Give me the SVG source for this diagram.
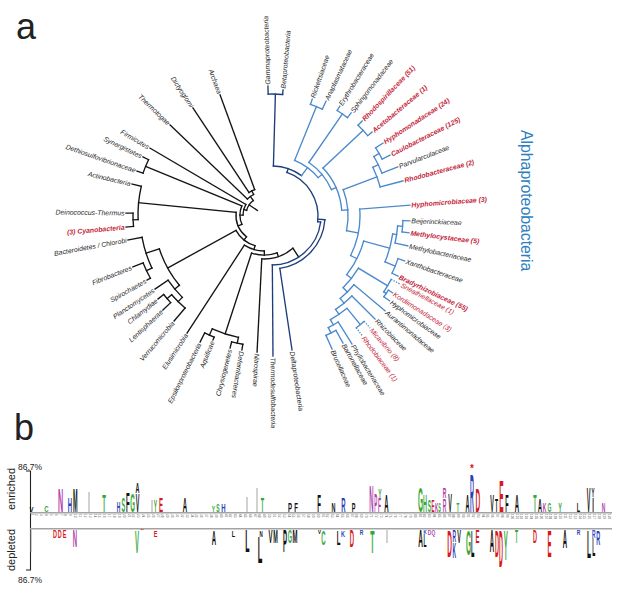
<svg xmlns="http://www.w3.org/2000/svg" width="617" height="590" viewBox="0 0 617 590">
<style>
.t{font-family:"Liberation Sans",Arial,sans-serif;font-style:italic;font-size:6.9px;fill:#262626}
.rb{fill:#c41e3a;font-weight:bold}
.rn{fill:#c41e3a}
.k{fill:none;stroke:#141414;stroke-width:1.35;stroke-linecap:square}
.nv{fill:none;stroke:#1e3d7b;stroke-width:1.35;stroke-linecap:square}
.ab{fill:none;stroke:#4b89cc;stroke-width:1.35;stroke-linecap:square}
.dt{stroke-dasharray:1.3 1.4;stroke-linecap:butt}
.pl{font-family:"Liberation Sans",Arial,sans-serif;fill:#222}
.lg{font-family:"Liberation Sans",Arial,sans-serif;font-weight:bold;font-size:10px;text-anchor:middle}
.g{fill:#35a83a}.b{fill:#2a3fb8}.d{fill:#d7191c}.m{fill:#b13fae}.x{fill:#111}
.num{font-family:"Liberation Sans",Arial,sans-serif;font-size:3.1px;fill:#555}
.eb{stroke:#9a9a9a;stroke-width:0.9}
</style>
<rect width="617" height="590" fill="#fff"/>
<g id="panel-a"><text class="pl" x="16" y="38.5" font-size="36">a</text></g>
<g id="panel-b"><text class="pl" x="14" y="440" font-size="36">b</text></g>

<g id="connectors">
<g class="k" transform="translate(264 215)">
<circle r="18" pathLength="360" stroke-dasharray="38.4 400" transform="rotate(-164.9)"/>
<circle r="21" pathLength="360" stroke-dasharray="30.6 400" transform="rotate(-180.2)"/>
<circle r="24" pathLength="360" stroke-dasharray="45.15 400" transform="rotate(-202.8)"/>
<circle r="28" pathLength="360" stroke-dasharray="56.85 400" transform="rotate(-231.25)"/>
<circle r="32" pathLength="360" stroke-dasharray="44.9 400" transform="rotate(-253.7)"/>
<circle r="36" pathLength="360" stroke-dasharray="33.6 400" transform="rotate(-270.5)"/>
<circle r="40" pathLength="360" stroke-dasharray="37.15 400" transform="rotate(-289.05)"/>
<circle r="44" pathLength="360" stroke-dasharray="43.9 400" transform="rotate(-311)"/>
<circle r="23" pathLength="360" stroke-dasharray="19.35 400" transform="rotate(-136.2)"/>
<circle r="27" pathLength="360" stroke-dasharray="13.5 400" transform="rotate(-123.6)"/>
<circle r="128" pathLength="360" stroke-dasharray="6.5 400" transform="rotate(-160.9)"/>
<circle r="126" pathLength="360" stroke-dasharray="15.3 400" transform="rotate(-182.1)"/>
<circle r="131" pathLength="360" stroke-dasharray="5.8 400" transform="rotate(-185)"/>
<circle r="110" pathLength="360" stroke-dasharray="21.8 400" transform="rotate(140.3)"/>
<circle r="124" pathLength="360" stroke-dasharray="14.95 400" transform="rotate(154.65)"/>
<circle r="130" pathLength="360" stroke-dasharray="7.5 400" transform="rotate(150.9)"/>
<circle r="116" pathLength="360" stroke-dasharray="11.05 400" transform="rotate(134.75)"/>
<circle r="122" pathLength="360" stroke-dasharray="8.9 400" transform="rotate(130.3)"/>
<circle r="128" pathLength="360" stroke-dasharray="4.8 400" transform="rotate(136.8)"/>
<circle r="125" pathLength="360" stroke-dasharray="12.65 400" transform="rotate(101.8)"/>
<circle r="132" pathLength="360" stroke-dasharray="4.5 400" transform="rotate(112.2)"/>
<circle r="131" pathLength="360" stroke-dasharray="5 400" transform="rotate(99.3)"/>
<line x1="27" x2="127.8" transform="rotate(-110.1)"/>
<line x1="27" x2="128.4" transform="rotate(-123.6)"/>
<line x1="23" x2="130.1" transform="rotate(-136.2)"/>
<line x1="23" x2="27" transform="rotate(-116.85)"/>
<line x1="18" x2="23" transform="rotate(-126.5)"/>
<line x1="21" x2="132.2" transform="rotate(-149.6)"/>
<line x1="8" x2="18" transform="rotate(-145.7)"/>
<line x1="24" x2="128" transform="rotate(-157.65)"/>
<line x1="128" x2="134.2" transform="rotate(-154.4)"/>
<line x1="128" x2="134.4" transform="rotate(-160.9)"/>
<line x1="28" x2="126" transform="rotate(-174.4)"/>
<line x1="126" x2="135.6" transform="rotate(-166.8)"/>
<line x1="126" x2="131" transform="rotate(-182.1)"/>
<line x1="131" x2="138" transform="rotate(-179.2)"/>
<line x1="131" x2="138.5" transform="rotate(175)"/>
<line x1="32" x2="110" transform="rotate(151.2)"/>
<line x1="110" x2="124" transform="rotate(162.1)"/>
<line x1="124" x2="138.3" transform="rotate(169.6)"/>
<line x1="124" x2="130" transform="rotate(154.65)"/>
<line x1="130" x2="141" transform="rotate(158.4)"/>
<line x1="130" x2="133.8" transform="rotate(150.9)"/>
<line x1="110" x2="116" transform="rotate(140.3)"/>
<line x1="116" x2="131.7" transform="rotate(145.8)"/>
<line x1="116" x2="122" transform="rotate(134.75)"/>
<line x1="122" x2="139" transform="rotate(130.3)"/>
<line x1="122" x2="128" transform="rotate(139.2)"/>
<line x1="128" x2="135.2" transform="rotate(141.6)"/>
<line x1="128" x2="138.7" transform="rotate(136.8)"/>
<line x1="36" x2="140.9" transform="rotate(123.1)"/>
<line x1="40" x2="125" transform="rotate(108.1)"/>
<line x1="125" x2="132" transform="rotate(114.45)"/>
<line x1="132" x2="142.2" transform="rotate(116.7)"/>
<line x1="132" x2="135" transform="rotate(112.2)"/>
<line x1="125" x2="131" transform="rotate(101.8)"/>
<line x1="131" x2="137.3" transform="rotate(104.3)"/>
<line x1="131" x2="136.8" transform="rotate(99.3)"/>
<line x1="44" x2="137.2" transform="rotate(92.9)"/>
<line x1="18" x2="21" transform="rotate(-164.9)"/>
<line x1="21" x2="24" transform="rotate(-180.2)"/>
<line x1="24" x2="28" transform="rotate(-202.8)"/>
<line x1="28" x2="32" transform="rotate(-231.25)"/>
<line x1="32" x2="36" transform="rotate(-253.7)"/>
<line x1="36" x2="40" transform="rotate(-270.5)"/>
<line x1="40" x2="44" transform="rotate(-289.05)"/>
</g>
<line class="k" x1="292.9" y1="248.2" x2="298.7" y2="257.1"/>
<g class="nv" transform="translate(272 216)">
<line x1="50" x2="122" transform="rotate(-88.4)"/>
<circle r="122" pathLength="360" stroke-dasharray="6.8 400" transform="rotate(-91.8)"/>
<line x1="122" x2="130" transform="rotate(-91.8)"/>
<line x1="122" x2="126.5" transform="rotate(-85)"/>
<circle r="50" pathLength="360" stroke-dasharray="34.6 400" transform="rotate(-88.4)"/>
<line x1="46" x2="50" transform="rotate(-71.1)"/>
<circle r="46" pathLength="360" stroke-dasharray="78.1 400" transform="rotate(-71.1)"/>
<line x1="46" x2="49" transform="rotate(7)"/>
<circle r="49" pathLength="360" stroke-dasharray="82.6 400" transform="rotate(7)"/>
<line x1="49" x2="140" transform="rotate(89.6)"/>
<line x1="46" x2="53" transform="rotate(4)"/>
<circle r="53" pathLength="360" stroke-dasharray="77.5 400" transform="rotate(4)"/>
<line x1="53" x2="135.5" transform="rotate(81.5)"/>
</g>
<g class="ab" transform="translate(272 216)">
<line x1="50" x2="60" transform="rotate(-53.8)"/>
<circle r="60" pathLength="360" stroke-dasharray="28.2 400" transform="rotate(-67.9)"/>
<line x1="60" x2="65" transform="rotate(-39.7)"/>
<circle r="65" pathLength="360" stroke-dasharray="31.45 400" transform="rotate(-55.4)"/>
<line x1="65" x2="70" transform="rotate(-23.95)"/>
<circle r="70" pathLength="360" stroke-dasharray="38.6 400" transform="rotate(-43.25)"/>
<line x1="70" x2="76" transform="rotate(-4.65)"/>
<circle r="76" pathLength="360" stroke-dasharray="31.5 400" transform="rotate(-20.4)"/>
<line x1="76" x2="88" transform="rotate(11.1)"/>
<circle r="88" pathLength="360" stroke-dasharray="31.2 400" transform="rotate(-4.5)"/>
<line x1="88" x2="95" transform="rotate(26.7)"/>
<circle r="95" pathLength="360" stroke-dasharray="22.85 400" transform="rotate(15.3)"/>
<line x1="95" x2="101" transform="rotate(38.15)"/>
<circle r="101" pathLength="360" stroke-dasharray="14.1 400" transform="rotate(31.1)"/>
<line x1="101" x2="107" transform="rotate(45.2)"/>
<circle r="107" pathLength="360" stroke-dasharray="10.4 400" transform="rotate(40)"/>
<line x1="107" x2="113" transform="rotate(50.4)"/>
<circle r="113" pathLength="360" stroke-dasharray="10.75 400" transform="rotate(45)"/>
<line x1="113" x2="119" transform="rotate(55.75)"/>
<circle r="119" pathLength="360" stroke-dasharray="9.7 400" transform="rotate(50.9)"/>
<line x1="119" x2="125" transform="rotate(60.6)"/>
<circle r="125" pathLength="360" stroke-dasharray="5.25 400" transform="rotate(58)"/>
<line x1="125" x2="131" transform="rotate(63.25)"/>
<circle r="131" pathLength="360" stroke-dasharray="4.9 400" transform="rotate(60.8)"/>
<line x1="60" x2="118" transform="rotate(-67.9)"/>
<circle r="118" pathLength="360" stroke-dasharray="6.2 400" transform="rotate(-71)"/>
<line x1="118" x2="123.6" transform="rotate(-71)"/>
<line x1="118" x2="127" transform="rotate(-64.8)"/>
<line x1="65" x2="124" transform="rotate(-55.4)"/>
<circle r="124" pathLength="360" stroke-dasharray="5.8 400" transform="rotate(-58.3)"/>
<line x1="124" x2="129" transform="rotate(-58.3)"/>
<line x1="124" x2="130" transform="rotate(-52.5)"/>
<line x1="70" x2="125" transform="rotate(-43.25)"/>
<circle r="125" pathLength="360" stroke-dasharray="6.5 400" transform="rotate(-46.5)"/>
<line x1="125" x2="131" transform="rotate(-46.5)"/>
<line x1="125" x2="130.6" transform="rotate(-40)"/>
<line x1="76" x2="112" transform="rotate(-20.4)"/>
<circle r="112" pathLength="360" stroke-dasharray="10.8 400" transform="rotate(-25.8)"/>
<line x1="112" x2="135.6" transform="rotate(-15)"/>
<line x1="112" x2="118" transform="rotate(-25.8)"/>
<circle r="118" pathLength="360" stroke-dasharray="9 400" transform="rotate(-30.3)"/>
<line x1="118" x2="135" transform="rotate(-21.3)"/>
<line x1="118" x2="124" transform="rotate(-30.3)"/>
<circle r="124" pathLength="360" stroke-dasharray="6 400" transform="rotate(-33.3)"/>
<line x1="124" x2="132.8" transform="rotate(-33.3)"/>
<line x1="124" x2="132.8" transform="rotate(-27.3)"/>
<line x1="88" x2="138.3" transform="rotate(-4.5)"/>
<line x1="95" x2="122" transform="rotate(15.3)"/>
<circle r="122" pathLength="360" stroke-dasharray="13.65 400" transform="rotate(8.45)"/>
<line x1="122" x2="126" transform="rotate(8.45)"/>
<circle r="126" pathLength="360" stroke-dasharray="7.9 400" transform="rotate(4.5)"/>
<line x1="126" x2="139" transform="rotate(12.4)"/>
<line x1="126" x2="131" transform="rotate(4.5)"/>
<circle r="131" pathLength="360" stroke-dasharray="5 400" transform="rotate(2)"/>
<line x1="131" x2="138" transform="rotate(2)"/>
<line x1="131" x2="138" transform="rotate(7)"/>
<line x1="122" x2="133" transform="rotate(22.1)"/>
<circle r="133" pathLength="360" stroke-dasharray="6.8 400" transform="rotate(18.7)"/>
<line x1="133" x2="140" transform="rotate(18.7)"/>
<line x1="133" x2="139.6" transform="rotate(25.5)"/>
<line x1="101" x2="135" transform="rotate(31.1)"/>
<circle r="135" pathLength="360" stroke-dasharray="6.15 400" transform="rotate(28)"/>
<line class="dt" x1="135" x2="145" transform="rotate(28)"/>
<line x1="135" x2="138" transform="rotate(34.15)"/>
<circle r="138" pathLength="360" stroke-dasharray="3.3 400" transform="rotate(32.5)"/>
<line x1="138" x2="143" transform="rotate(32.5)"/>
<line x1="138" x2="145" transform="rotate(35.8)"/>
<line x1="107" x2="147.6" transform="rotate(40)"/>
<line x1="113" x2="145.7" transform="rotate(45)"/>
<line x1="119" x2="140" transform="rotate(50.9)"/>
<circle r="140" pathLength="360" stroke-dasharray="4.2 400" transform="rotate(48.8)"/>
<line class="dt" x1="140" x2="148.8" transform="rotate(48.8)"/>
<line class="dt" x1="140" x2="150" transform="rotate(53)"/>
<line x1="125" x2="151" transform="rotate(58)"/>
<line x1="131" x2="145.5" transform="rotate(60.8)"/>
<line x1="131" x2="146" transform="rotate(65.7)"/>
</g>
</g>

<g id="n-archaea" transform="translate(264 215) rotate(-110.1) translate(129.3 0) rotate(180)"><text class="t" text-anchor="end" y="2.4">Archaea</text></g>
<g id="n-dictyoglomi" transform="translate(264 215) rotate(-123.6) translate(129.9 0) rotate(180)"><text class="t" text-anchor="end" y="2.4">Dictyoglomi</text></g>
<g id="n-thermotogae" transform="translate(264 215) rotate(-136.2) translate(131.6 0) rotate(180)"><text class="t" text-anchor="end" y="2.4">Thermotogae</text></g>
<g id="n-firmicutes" transform="translate(264 215) rotate(-149.6) translate(133.7 0) rotate(180)"><text class="t" text-anchor="end" y="2.4">Firmicutes</text></g>
<g id="n-synergistetes" transform="translate(264 215) rotate(-154.4) translate(135.7 0) rotate(180)"><text class="t" text-anchor="end" y="2.4">Synergistetes</text></g>
<g id="n-dethiosulfovibrionaceae" transform="translate(264 215) rotate(-160.9) translate(135.9 0) rotate(180)"><text class="t" text-anchor="end" y="2.4">Dethiosulfovibrionaceae</text></g>
<g id="n-actinobacteria" transform="translate(264 215) rotate(-166.8) translate(137.1 0) rotate(180)"><text class="t" text-anchor="end" y="2.4">Actinobacteria</text></g>
<g id="n-deinococcus" transform="translate(264 215) rotate(-179.2) translate(139.5 0) rotate(180)"><text class="t" text-anchor="end" y="2.4">Deinococcus-Thermus</text></g>
<g id="n-cyanobacteria" transform="translate(264 215) rotate(175) translate(140 0) rotate(180)"><text class="t rb" text-anchor="end" y="2.4">(3) Cyanobacteria</text></g>
<g id="n-bacteroidetes" transform="translate(264 215) rotate(169.6) translate(139.8 0) rotate(180)"><text class="t" text-anchor="end" y="2.4">Bacteroidetes / Chlorobi</text></g>
<g id="n-fibrobacteres" transform="translate(264 215) rotate(158.4) translate(142.5 0) rotate(180)"><text class="t" text-anchor="end" y="2.4">Fibrobacteres</text></g>
<g id="n-spirochaetes" transform="translate(264 215) rotate(150.9) translate(135.3 0) rotate(180)"><text class="t" text-anchor="end" y="2.4">Spirochaetes</text></g>
<g id="n-planctomycetes" transform="translate(264 215) rotate(145.8) translate(133.2 0) rotate(180)"><text class="t" text-anchor="end" y="2.4">Planctomycetes</text></g>
<g id="n-chlamydiae" transform="translate(264 215) rotate(141.6) translate(136.7 0) rotate(180)"><text class="t" text-anchor="end" y="2.4">Chlamydiae</text></g>
<g id="n-lentisphaerae" transform="translate(264 215) rotate(136.8) translate(140.2 0) rotate(180)"><text class="t" text-anchor="end" y="2.4">Lentisphaerae</text></g>
<g id="n-verrucomicrobia" transform="translate(264 215) rotate(130.3) translate(140.5 0) rotate(180)"><text class="t" text-anchor="end" y="2.4">Verrucomicrobia</text></g>
<g id="n-elusimicrobia" transform="translate(264 215) rotate(123.1) translate(142.4 0) rotate(180)"><text class="t" text-anchor="end" y="2.4">Elusimicrobia</text></g>
<g id="n-epsilon" transform="translate(264 215) rotate(116.7) translate(143.7 0) rotate(180)"><text class="t" text-anchor="end" y="2.4">Epsilonproteobacteria</text></g>
<g id="n-aquificae" transform="translate(264 215) rotate(112.2) translate(136.5 0) rotate(180)"><text class="t" text-anchor="end" y="2.4">Aquificae</text></g>
<g id="n-chrysiogenetes" transform="translate(264 215) rotate(104.3) translate(138.8 0) rotate(180)"><text class="t" text-anchor="end" y="2.4">Chrysiogenetes</text></g>
<g id="n-deferribacteres" transform="translate(264 215) rotate(99.3) translate(138.3 0)"><text class="t" y="2.4">Deferribacteres</text></g>
<g id="n-nitrospirae" transform="translate(264 215) rotate(92.9) translate(138.7 0)"><text class="t" y="2.4">Nitrospirae</text></g>

<g id="n-gamma" transform="translate(272 216) rotate(-91.8) translate(131.5 0)"><text class="t" y="2.4">Gammaproteobacteria</text></g>
<g id="n-beta" transform="translate(272 216) rotate(-85) translate(128 0)"><text class="t" y="2.4">Betaproteobacteria</text></g>
<g id="n-thermodesulfobacteria" transform="translate(272 216) rotate(89.6) translate(141.5 0)"><text class="t" y="2.4">Thermodesulfobacteria</text></g>
<g id="n-delta" transform="translate(272 216) rotate(81.5) translate(137 0)"><text class="t" y="2.4">Deltaproteobacteria</text></g>
<g id="n-rickettsiaceae" transform="translate(272 216) rotate(-71) translate(125.1 0)"><text class="t" y="2.4">Rickettsiaceae</text></g>
<g id="n-anaplasmataceae" transform="translate(272 216) rotate(-64.8) translate(128.5 0)"><text class="t" y="2.4">Anaplasmataceae</text></g>
<g id="n-erythrobacteraceae" transform="translate(272 216) rotate(-58.3) translate(130.5 0)"><text class="t" y="2.4">Erythrobacteraceae</text></g>
<g id="n-sphingomonadaceae" transform="translate(272 216) rotate(-52.5) translate(131.5 0)"><text class="t" y="2.4">Sphingomonadaceae</text></g>
<g id="n-rhodospirillaceae" transform="translate(272 216) rotate(-46.5) translate(132.5 0)"><text class="t rb" y="2.4">Rhodospirillaceae (51)</text></g>
<g id="n-acetobacteraceae" transform="translate(272 216) rotate(-40) translate(132.1 0)"><text class="t rb" y="2.4">Acetobacteraceae (1)</text></g>
<g id="n-hyphomonadaceae" transform="translate(272 216) rotate(-33.3) translate(134.3 0)"><text class="t rb" y="2.4">Hyphomonadaceae (24)</text></g>
<g id="n-caulobacteraceae" transform="translate(272 216) rotate(-27.3) translate(134.3 0)"><text class="t rb" y="2.4">Caulobacteraceae (125)</text></g>
<g id="n-parvularculaceae" transform="translate(272 216) rotate(-21.3) translate(136.5 0)"><text class="t" y="2.4">Parvularculaceae</text></g>
<g id="n-rhodobacteraceae" transform="translate(272 216) rotate(-15) translate(137.1 0)"><text class="t rb" y="2.4">Rhodobacteraceae (2)</text></g>
<g id="n-hyphomicrobiaceae3" transform="translate(272 216) rotate(-4.5) translate(139.8 0)"><text class="t rb" y="2.4">Hyphomicrobiaceae (3)</text></g>
<g id="n-beijerinckiaceae" transform="translate(272 216) rotate(2) translate(139.5 0)"><text class="t" y="2.4">Beijerinckiaceae</text></g>
<g id="n-methylocystaceae" transform="translate(272 216) rotate(7) translate(139.5 0)"><text class="t rb" y="2.4">Methylocystaceae (5)</text></g>
<g id="n-methylobacteriaceae" transform="translate(272 216) rotate(12.4) translate(140.5 0)"><text class="t" y="2.4">Methylobacteriaceae</text></g>
<g id="n-xanthobacteraceae" transform="translate(272 216) rotate(18.7) translate(141.5 0)"><text class="t" y="2.4">Xanthobacteraceae</text></g>
<g id="n-bradyrhizobiaceae" transform="translate(272 216) rotate(25.5) translate(141.1 0)"><text class="t rb" y="2.4">Bradyrhizobiaceae (55)</text></g>
<g id="n-sneathiellaceae" transform="translate(272 216) rotate(28) translate(146.5 0)"><text class="t rn" y="2.4">Sneathiellaceae (1)</text></g>
<g id="n-kordiimonadaceae" transform="translate(272 216) rotate(32.5) translate(144.5 0)"><text class="t rn" y="2.4">Kordiimonadaceae (3)</text></g>
<g id="n-hyphomicrobiaceae" transform="translate(272 216) rotate(35.8) translate(146.5 0)"><text class="t" y="2.4">Hyphomicrobiaceae</text></g>
<g id="n-aurantimonadaceae" transform="translate(272 216) rotate(40) translate(149.1 0)"><text class="t" y="2.4">Aurantimonadaceae</text></g>
<g id="n-rhizobiaceae" transform="translate(272 216) rotate(45) translate(147.2 0)"><text class="t" y="2.4">Rhizobiaceae</text></g>
<g id="n-micavibrio" transform="translate(272 216) rotate(48.8) translate(150.3 0)"><text class="t rn" y="2.4">Micavibrio (8)</text></g>
<g id="n-rhodobiaceae" transform="translate(272 216) rotate(53) translate(151.5 0)"><text class="t rn" y="2.4">Rhodobiaceae (1)</text></g>
<g id="n-phyllobacteriaceae" transform="translate(272 216) rotate(58) translate(152.5 0)"><text class="t" y="2.4">Phyllobacteriaceae</text></g>
<g id="n-bartonellaceae" transform="translate(272 216) rotate(60.8) translate(147 0)"><text class="t" y="2.4">Bartonellaceae</text></g>
<g id="n-brucellaceae" transform="translate(272 216) rotate(65.7) translate(147.5 0)"><text class="t" y="2.4">Brucellaceae</text></g>
<g id="n-alphaproteobacteria"><text class="pl" x="521" y="130" font-size="15.8" style="fill:#2f7fc0" transform="rotate(90 521 130)">Alphaproteobacteria</text></g>

<g id="logo-axis">
<path d="M26 471H30.5V570H26" fill="none" stroke="#222" stroke-width="1.1"/>
<text class="pl" x="18" y="469.5" font-size="8.5">86.7%</text>
<text class="pl" x="18" y="582.5" font-size="8.5">86.7%</text>
<text class="pl" font-size="11" text-anchor="middle" transform="translate(15 489) rotate(-90)">enriched</text>
<text class="pl" font-size="11" text-anchor="middle" transform="translate(15 550) rotate(-90)">depleted</text>
<line x1="30" y1="512.8" x2="612" y2="512.8" stroke="#a3a3a3" stroke-width="1.5"/>
<line x1="30" y1="528.8" x2="612" y2="528.8" stroke="#a3a3a3" stroke-width="1.5"/>
<g class="eb">
<line x1="89" y1="492" x2="89" y2="512"/><line x1="152" y1="500" x2="152" y2="512"/>
<line x1="247" y1="497" x2="247" y2="512"/><line x1="257" y1="488" x2="257" y2="512"/>
<line x1="31" y1="530" x2="31" y2="552"/><line x1="387" y1="530" x2="387" y2="543"/>
</g>
</g>

<g id="logo-positions" class="num">
<text transform="translate(30.5 514) rotate(90)">1</text><text transform="translate(35.35 514) rotate(90)">2</text><text transform="translate(40.2 514) rotate(90)">3</text><text transform="translate(45.05 514) rotate(90)">4</text><text transform="translate(49.9 514) rotate(90)">5</text><text transform="translate(54.75 514) rotate(90)">6</text><text transform="translate(59.6 514) rotate(90)">7</text><text transform="translate(64.45 514) rotate(90)">8</text><text transform="translate(69.3 514) rotate(90)">9</text><text transform="translate(74.15 514) rotate(90)">10</text>
<text transform="translate(79 514) rotate(90)">11</text><text transform="translate(83.85 514) rotate(90)">12</text><text transform="translate(88.7 514) rotate(90)">13</text><text transform="translate(93.55 514) rotate(90)">14</text><text transform="translate(98.4 514) rotate(90)">15</text><text transform="translate(103.25 514) rotate(90)">16</text><text transform="translate(108.1 514) rotate(90)">17</text><text transform="translate(112.95 514) rotate(90)">18</text><text transform="translate(117.8 514) rotate(90)">19</text><text transform="translate(122.65 514) rotate(90)">20</text>
<text transform="translate(127.5 514) rotate(90)">21</text><text transform="translate(132.35 514) rotate(90)">22</text><text transform="translate(137.2 514) rotate(90)">23</text><text transform="translate(142.05 514) rotate(90)">24</text><text transform="translate(146.9 514) rotate(90)">25</text><text transform="translate(151.75 514) rotate(90)">26</text><text transform="translate(156.6 514) rotate(90)">27</text><text transform="translate(161.45 514) rotate(90)">28</text><text transform="translate(166.3 514) rotate(90)">29</text><text transform="translate(171.15 514) rotate(90)">30</text>
<text transform="translate(176 514) rotate(90)">31</text><text transform="translate(180.85 514) rotate(90)">32</text><text transform="translate(185.7 514) rotate(90)">33</text><text transform="translate(190.55 514) rotate(90)">34</text><text transform="translate(195.4 514) rotate(90)">35</text><text transform="translate(200.25 514) rotate(90)">36</text><text transform="translate(205.1 514) rotate(90)">37</text><text transform="translate(209.95 514) rotate(90)">38</text><text transform="translate(214.8 514) rotate(90)">39</text><text transform="translate(219.65 514) rotate(90)">40</text>
<text transform="translate(224.5 514) rotate(90)">41</text><text transform="translate(229.35 514) rotate(90)">42</text><text transform="translate(234.2 514) rotate(90)">43</text><text transform="translate(239.05 514) rotate(90)">44</text><text transform="translate(243.9 514) rotate(90)">45</text><text transform="translate(248.75 514) rotate(90)">46</text><text transform="translate(253.6 514) rotate(90)">47</text><text transform="translate(258.45 514) rotate(90)">48</text><text transform="translate(263.3 514) rotate(90)">49</text><text transform="translate(268.15 514) rotate(90)">50</text>
<text transform="translate(273 514) rotate(90)">51</text><text transform="translate(277.85 514) rotate(90)">52</text><text transform="translate(282.7 514) rotate(90)">53</text><text transform="translate(287.55 514) rotate(90)">54</text><text transform="translate(292.4 514) rotate(90)">55</text><text transform="translate(297.25 514) rotate(90)">56</text><text transform="translate(302.1 514) rotate(90)">57</text><text transform="translate(306.95 514) rotate(90)">58</text><text transform="translate(311.8 514) rotate(90)">59</text><text transform="translate(316.65 514) rotate(90)">60</text>
<text transform="translate(321.5 514) rotate(90)">61</text><text transform="translate(326.35 514) rotate(90)">62</text><text transform="translate(331.2 514) rotate(90)">63</text><text transform="translate(336.05 514) rotate(90)">64</text><text transform="translate(340.9 514) rotate(90)">65</text><text transform="translate(345.75 514) rotate(90)">66</text><text transform="translate(350.6 514) rotate(90)">67</text><text transform="translate(355.45 514) rotate(90)">68</text><text transform="translate(360.3 514) rotate(90)">69</text><text transform="translate(365.15 514) rotate(90)">70</text>
<text transform="translate(370 514) rotate(90)">71</text><text transform="translate(374.85 514) rotate(90)">72</text><text transform="translate(379.7 514) rotate(90)">73</text><text transform="translate(384.55 514) rotate(90)">74</text><text transform="translate(389.4 514) rotate(90)">75</text><text transform="translate(394.25 514) rotate(90)">76</text><text transform="translate(399.1 514) rotate(90)">77</text><text transform="translate(403.95 514) rotate(90)">78</text><text transform="translate(408.8 514) rotate(90)">79</text><text transform="translate(413.65 514) rotate(90)">80</text>
<text transform="translate(418.5 514) rotate(90)">81</text><text transform="translate(423.35 514) rotate(90)">82</text><text transform="translate(428.2 514) rotate(90)">83</text><text transform="translate(433.05 514) rotate(90)">84</text><text transform="translate(437.9 514) rotate(90)">85</text><text transform="translate(442.75 514) rotate(90)">86</text><text transform="translate(447.6 514) rotate(90)">87</text><text transform="translate(452.45 514) rotate(90)">88</text><text transform="translate(457.3 514) rotate(90)">89</text><text transform="translate(462.15 514) rotate(90)">90</text>
<text transform="translate(467 514) rotate(90)">91</text><text transform="translate(471.85 514) rotate(90)">92</text><text transform="translate(476.7 514) rotate(90)">93</text><text transform="translate(481.55 514) rotate(90)">94</text><text transform="translate(486.4 514) rotate(90)">95</text><text transform="translate(491.25 514) rotate(90)">96</text><text transform="translate(496.1 514) rotate(90)">97</text><text transform="translate(500.95 514) rotate(90)">98</text><text transform="translate(505.8 514) rotate(90)">99</text><text transform="translate(510.65 514) rotate(90)">100</text>
<text transform="translate(515.5 514) rotate(90)">101</text><text transform="translate(520.35 514) rotate(90)">102</text><text transform="translate(525.2 514) rotate(90)">103</text><text transform="translate(530.05 514) rotate(90)">104</text><text transform="translate(534.9 514) rotate(90)">105</text><text transform="translate(539.75 514) rotate(90)">106</text><text transform="translate(544.6 514) rotate(90)">107</text><text transform="translate(549.45 514) rotate(90)">108</text><text transform="translate(554.3 514) rotate(90)">109</text><text transform="translate(559.15 514) rotate(90)">110</text>
<text transform="translate(564 514) rotate(90)">111</text><text transform="translate(568.85 514) rotate(90)">112</text><text transform="translate(573.7 514) rotate(90)">113</text><text transform="translate(578.55 514) rotate(90)">114</text><text transform="translate(583.4 514) rotate(90)">115</text><text transform="translate(588.25 514) rotate(90)">116</text><text transform="translate(593.1 514) rotate(90)">117</text><text transform="translate(597.95 514) rotate(90)">118</text><text transform="translate(602.8 514) rotate(90)">119</text><text transform="translate(607.65 514) rotate(90)">120</text>
</g>

<g id="logo-enriched">
<text class="lg x" transform="translate(31.5 511.8) scale(0.6 0.7)">V</text>
<text class="lg g" transform="translate(46.5 511.8) scale(0.6 0.98)">C</text>
<text class="lg m" transform="translate(60.5 511.8) scale(0.72 3.35)">N</text>
<text class="lg b" transform="translate(70 511.8) scale(0.6 2.09)">H</text>
<text class="lg x" transform="translate(75.2 511.8) scale(0.55 3.35)">M</text>
<text class="lg g" transform="translate(104 511.8) scale(0.6 2.37)">T</text>
<text class="lg b" transform="translate(118.5 511.8) scale(0.5 1.4)">H</text>
<text class="lg g" transform="translate(123.3 511.8) scale(0.55 1.96)">S</text>
<text class="lg x" transform="translate(127.8 511.8) scale(0.6 2.79)">F</text>
<text class="lg g" transform="translate(132.5 511.8) scale(0.6 2.65)">G</text>
<text class="lg x" transform="translate(137.5 511.8) scale(0.55 2.65)">V</text>
<text class="lg x" transform="translate(137.5 492.8) scale(0.55 1.4)">A</text>
<text class="lg g" transform="translate(155.5 511.8) scale(0.5 1.68)">Y</text>
<text class="lg d" transform="translate(161 511.8) scale(0.6 1.96)">E</text>
<text class="lg x" transform="translate(185 511.8) scale(0.6 2.09)">A</text>
<text class="lg g" transform="translate(213.5 511.8) scale(0.5 0.98)">Y</text>
<text class="lg g" transform="translate(217.8 511.8) scale(0.5 1.12)">S</text>
<text class="lg b" transform="translate(223.5 511.8) scale(0.6 1.12)">H</text>
<text class="lg g" transform="translate(262.5 511.8) scale(0.55 1.96)">T</text>
<text class="lg x" transform="translate(290 511.8) scale(0.6 1.26)">P</text>
<text class="lg x" transform="translate(296 511.8) scale(0.6 1.26)">F</text>
<text class="lg x" transform="translate(319 511.8) scale(0.6 2.3)">F</text>
<text class="lg x" transform="translate(333.5 511.8) scale(0.55 1.33)">N</text>
<text class="lg b" transform="translate(343.5 511.8) scale(0.6 2.03)">R</text>
<text class="lg x" transform="translate(353.5 511.8) scale(0.55 1.19)">P</text>
<text class="lg m" transform="translate(371.5 511.8) scale(0.6 3.7)">N</text>
<text class="lg m" transform="translate(375.7 511.8) scale(0.45 2.58)">P</text>
<text class="lg m" transform="translate(379.6 511.8) scale(0.5 1.96)">F</text>
<text class="lg g" transform="translate(379.8 497.8) scale(0.5 1.26)">Y</text>
<text class="lg x" transform="translate(386.5 511.8) scale(0.6 2.3)">A</text>
<text class="lg g" transform="translate(420.5 511.8) scale(0.65 3.42)">G</text>
<text class="lg g" transform="translate(425 511.8) scale(0.55 2.3)">H</text>
<text class="lg g" transform="translate(429.5 511.8) scale(0.5 1.61)">S</text>
<text class="lg d" transform="translate(433 511.8) scale(0.45 1.61)">E</text>
<text class="lg m" transform="translate(436.5 511.8) scale(0.45 1.33)">K</text>
<text class="lg g" transform="translate(439.6 511.8) scale(0.4 1.19)">S</text>
<text class="lg m" transform="translate(444.5 511.8) scale(0.5 1.89)">R</text>
<text class="lg m" transform="translate(444.5 498.3) scale(0.5 1.54)">R</text>
<text class="lg x" transform="translate(450 511.8) scale(0.55 2.58)">V</text>
<text class="lg g" transform="translate(458 511.8) scale(0.45 1.19)">T</text>
<text class="lg x" transform="translate(467.5 511.8) scale(0.55 2.3)">A</text>
<text class="lg b" transform="translate(472 511.8) scale(0.55 5.38)">R</text>
<text class="lg d" transform="translate(477.8 511.8) scale(0.65 3.28)">D</text>
<text class="lg" style="fill:#d7191c" font-size="17" transform="translate(472 471.5)">*</text>
<text class="lg x" transform="translate(492 511.8) scale(0.55 2.3)">V</text>
<text class="lg x" transform="translate(496.5 511.8) scale(0.5 1.89)">T</text>
<text class="lg d" transform="translate(501.5 511.8) scale(0.65 4.4)">E</text>
<text class="lg x" transform="translate(507 511.8) scale(0.55 2.3)">F</text>
<text class="lg x" transform="translate(517 511.8) scale(0.6 2.3)">A</text>
<text class="lg g" transform="translate(535 511.8) scale(0.55 2.3)">T</text>
<text class="lg x" transform="translate(540 511.8) scale(0.55 1.89)">A</text>
<text class="lg m" transform="translate(544.5 511.8) scale(0.5 1.33)">K</text>
<text class="lg g" transform="translate(549.5 511.8) scale(0.5 1.19)">G</text>
<text class="lg g" transform="translate(560 511.8) scale(0.55 1.33)">Y</text>
<text class="lg x" transform="translate(578.5 511.8) scale(0.55 1.33)">L</text>
<text class="lg x" transform="translate(588.5 511.8) scale(0.55 3.42)">V</text>
<text class="lg x" transform="translate(593 511.8) scale(0.6 2.09)">I</text>
<text class="lg x" transform="translate(593 496.8) scale(0.45 1.26)">Y</text>
<text class="lg m" transform="translate(603.5 511.8) scale(0.5 1.19)">N</text>
</g>

<g id="logo-depleted">
<text class="lg d" transform="translate(55 538) scale(0.55 1.12)">D</text>
<text class="lg d" transform="translate(59.8 538) scale(0.55 1.12)">D</text>
<text class="lg d" transform="translate(64.6 538) scale(0.55 1.12)">E</text>
<text class="lg m" transform="translate(75 547) scale(0.6 2.37)">N</text>
<text class="lg g" transform="translate(137 553) scale(0.6 3.21)">V</text>
<text class="lg d" transform="translate(142.5 530) scale(0.6 0.21)">E</text>
<text class="lg d" transform="translate(155.5 537) scale(0.55 0.98)">E</text>
<text class="lg x" transform="translate(214 545) scale(0.6 2.09)">A</text>
<text class="lg x" transform="translate(233.5 537) scale(0.55 0.98)">L</text>
<text class="lg x" transform="translate(247.5 552) scale(0.7 3.07)">L</text>
<text class="lg x" transform="translate(261 537) scale(0.45 0.98)">N</text>
<text class="lg x" transform="translate(260 563) scale(0.75 3.63)">L</text>
<text class="lg x" transform="translate(270.5 543) scale(0.6 1.82)">V</text>
<text class="lg x" transform="translate(275.5 543) scale(0.55 1.82)">M</text>
<text class="lg x" transform="translate(285 552) scale(0.6 3.07)">P</text>
<text class="lg g" transform="translate(289.8 543) scale(0.55 1.82)">G</text>
<text class="lg x" transform="translate(295 543) scale(0.6 1.82)">M</text>
<text class="lg x" transform="translate(319.5 534) scale(0.45 0.56)">V</text>
<text class="lg g" transform="translate(323.5 545) scale(0.6 2.09)">C</text>
<text class="lg x" transform="translate(338.5 545) scale(0.6 2.09)">L</text>
<text class="lg b" transform="translate(343 537) scale(0.55 0.98)">K</text>
<text class="lg d" transform="translate(352 547) scale(0.6 2.37)">D</text>
<text class="lg b" transform="translate(361.5 535) scale(0.5 0.7)">R</text>
<text class="lg g" transform="translate(372.5 553) scale(0.7 3.21)">T</text>
<text class="lg x" transform="translate(420.5 547) scale(0.65 2.37)">A</text>
<text class="lg b" transform="translate(425 534) scale(0.45 0.56)">K</text>
<text class="lg x" transform="translate(425 547) scale(0.5 1.82)">L</text>
<text class="lg m" transform="translate(429.5 535) scale(0.5 0.7)">D</text>
<text class="lg m" transform="translate(433.5 535) scale(0.5 0.7)">Q</text>
<text class="lg d" transform="translate(449.5 557) scale(0.65 3.77)">D</text>
<text class="lg b" transform="translate(454.2 542) scale(0.5 1.68)">R</text>
<text class="lg b" transform="translate(454.2 558) scale(0.5 2.23)">K</text>
<text class="lg x" transform="translate(459 543) scale(0.55 1.82)">V</text>
<text class="lg g" transform="translate(468.5 555) scale(0.65 3.49)">G</text>
<text class="lg x" transform="translate(472.8 557) scale(0.55 3.77)">L</text>
<text class="lg d" transform="translate(477.5 543) scale(0.6 1.82)">E</text>
<text class="lg x" transform="translate(492 552) scale(0.6 3.07)">A</text>
<text class="lg d" transform="translate(497 557) scale(0.55 3.77)">D</text>
<text class="lg d" transform="translate(501 567) scale(0.55 5.17)">D</text>
<text class="lg g" transform="translate(505.8 560) scale(0.6 4.19)">Y</text>
<text class="lg g" transform="translate(516.5 543) scale(0.5 1.82)">T</text>
<text class="lg d" transform="translate(535 543) scale(0.55 1.82)">D</text>
<text class="lg d" transform="translate(549.5 557) scale(0.6 3.77)">E</text>
<text class="lg x" transform="translate(565 548) scale(0.6 2.51)">A</text>
<text class="lg b" transform="translate(578.5 535) scale(0.5 0.7)">R</text>
<text class="lg x" transform="translate(589 558) scale(0.65 3.91)">L</text>
<text class="lg b" transform="translate(593.8 538) scale(0.5 1.12)">R</text>
<text class="lg x" transform="translate(593.8 556) scale(0.5 2.51)">L</text>
<text class="lg b" transform="translate(598.3 545) scale(0.55 2.09)">R</text>
</g>
</svg>
